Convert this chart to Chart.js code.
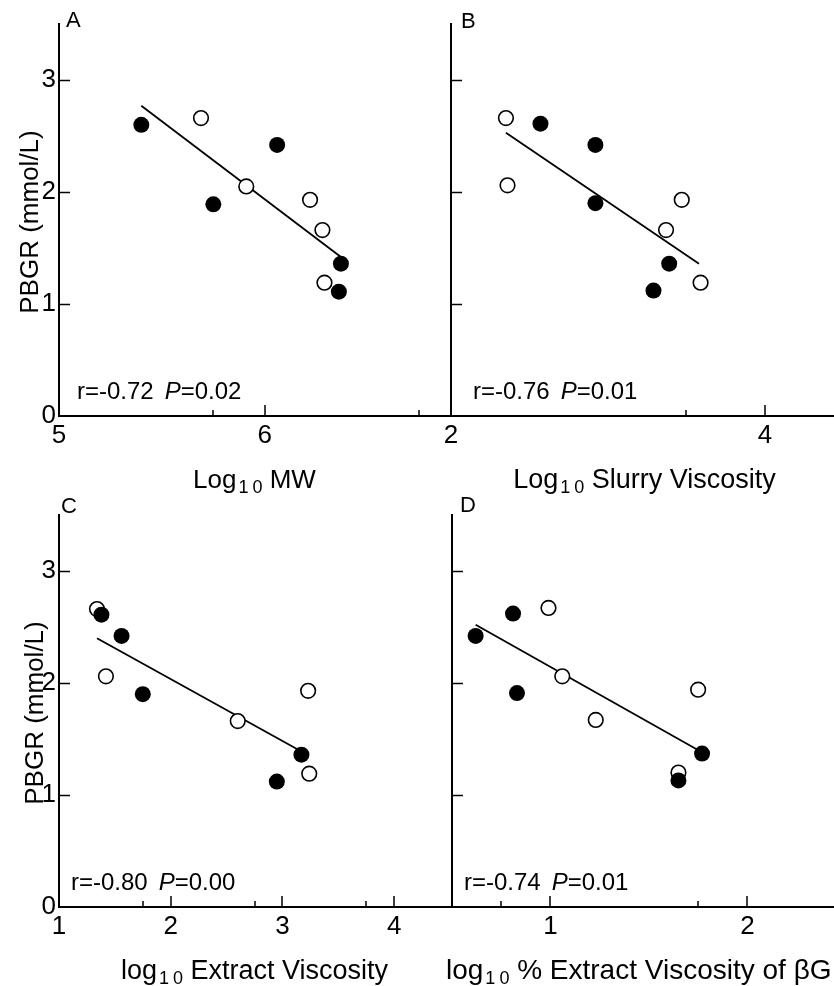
<!DOCTYPE html>
<html>
<head>
<meta charset="utf-8">
<script src="https://cdn.jsdelivr.net/npm/chart.js@4.4.1/dist/chart.umd.min.js"></script>
<style>
html,body{margin:0;padding:0;background:#fff;width:834px;height:986px;overflow:hidden;}
canvas{position:absolute;}
</style>
</head>
<body>
<canvas id="cA" width="451" height="500" style="left:0;top:0"></canvas>
<canvas id="cB" width="434" height="500" style="left:400px;top:0"></canvas>
<canvas id="cC" width="451" height="500" style="left:0;top:491px"></canvas>
<canvas id="cD" width="434" height="500" style="left:400px;top:491px"></canvas>
<script>
// ---------- data ----------
const yTicks = [0, 1, 2, 3];

// Panel A : Log10 MW
const mwFilledX = [5.40, 5.75, 6.06, 6.37, 6.36];
const mwFilledY = [2.60, 1.89, 2.42, 1.36, 1.11];
const mwOpenX   = [5.69, 5.91, 6.22, 6.28, 6.29];
const mwOpenY   = [2.66, 2.05, 1.93, 1.66, 1.19];
const mwFitX    = [5.40, 6.37];
const mwFitY    = [2.77, 1.42];
const mwMajorTicks = [5, 6];
const mwMinorTicks = [5.75, 6.75];

// Panel B : Log10 Slurry Viscosity
const slurryFilledX = [2.57, 2.92, 2.92, 3.39, 3.29];
const slurryFilledY = [2.61, 2.42, 1.90, 1.36, 1.12];
const slurryOpenX   = [2.35, 2.36, 3.47, 3.37, 3.59];
const slurryOpenY   = [2.66, 2.06, 1.93, 1.66, 1.19];
const slurryFitX    = [2.35, 3.58];
const slurryFitY    = [2.53, 1.36];
const slurryMajorTicks = [2, 4];
const slurryMinorTicks = [3.5];

// Panel C : log10 Extract Viscosity
const extractFilledX = [1.38, 1.56, 1.75, 3.17, 2.95];
const extractFilledY = [2.61, 2.42, 1.90, 1.36, 1.12];
const extractOpenX   = [1.34, 1.42, 3.23, 2.60, 3.24];
const extractOpenY   = [2.66, 2.06, 1.93, 1.66, 1.19];
const extractFitX    = [1.34, 3.13];
const extractFitY    = [2.40, 1.41];
const extractMajorTicks = [1, 2, 3, 4];
const extractMinorTicks = [1.75, 2.75, 3.75];

// Panel D : log10 % Extract Viscosity of βG
const pctFilledX = [0.62, 0.81, 0.83, 1.77, 1.65];
const pctFilledY = [2.42, 2.62, 1.91, 1.37, 1.13];
const pctOpenX   = [0.99, 1.06, 1.75, 1.23, 1.65];
const pctOpenY   = [2.67, 2.06, 1.94, 1.67, 1.20];
const pctFitX    = [0.62, 1.74];
const pctFitY    = [2.52, 1.41];
const pctMajorTicks = [1, 2];
const pctMinorTicks = [0.75, 1.75];

const panelLetters = ['A', 'B', 'C', 'D'];
const rValues = ['-0.72', '-0.76', '-0.80', '-0.74'];
const pValues = ['0.02', '0.01', '0.00', '0.01'];
const yTitle = 'PBGR (mmol/L)';

// ---------- drawing ----------
const FONT = '"Liberation Sans", Arial, Helvetica, sans-serif';

const decor = {
  id: 'decor',
  beforeDatasetsDraw(chart, args, o) {
    const ctx = chart.ctx, ca = chart.chartArea;
    const xs = chart.scales.x, ys = chart.scales.y;
    ctx.save();
    ctx.strokeStyle = '#000';
    ctx.lineWidth = 1.5;
    // inward y ticks
    yTicks.forEach(v => {
      if (v === 0) return;
      const p = Math.round(ys.getPixelForValue(v)) + 0.5;
      ctx.beginPath(); ctx.moveTo(ca.left, p); ctx.lineTo(ca.left + 11, p); ctx.stroke();
    });
    // inward x ticks
    o.major.forEach(v => {
      const p = Math.round(xs.getPixelForValue(v));
      ctx.beginPath(); ctx.moveTo(p, ca.bottom); ctx.lineTo(p, ca.bottom - 11); ctx.stroke();
    });
    o.minor.forEach(v => {
      const p = Math.round(xs.getPixelForValue(v));
      ctx.beginPath(); ctx.moveTo(p, ca.bottom); ctx.lineTo(p, ca.bottom - 6); ctx.stroke();
    });
    ctx.restore();
  },
  afterDraw(chart, args, o) {
    const ctx = chart.ctx, ca = chart.chartArea;
    ctx.save();
    ctx.fillStyle = '#000';
    ctx.textBaseline = 'alphabetic';
    // panel letter
    ctx.font = '22px ' + FONT;
    ctx.textAlign = 'left';
    ctx.fillText(o.letter, ca.left + o.letterDx, ca.top + o.letterDy);
    // r / P annotation
    ctx.font = '24px ' + FONT;
    let x = ca.left + o.annDx;
    const by = ca.bottom - 17;
    const s1 = 'r=' + o.r;
    ctx.fillText(s1, x, by);
    x += ctx.measureText(s1).width + 11;
    ctx.font = 'italic 24px ' + FONT;
    ctx.fillText('P', x, by);
    x += ctx.measureText('P').width;
    ctx.font = '24px ' + FONT;
    ctx.fillText('=' + o.p, x, by);
    // x-axis title with subscript
    const mainF = o.titleSize + 'px ' + FONT, subF = '18px ' + FONT;
    ctx.font = mainF; const w1 = ctx.measureText(o.tPre).width;
    ctx.font = subF;
    const subChars = o.tSub.split('');
    const cw = subChars.map(c => ctx.measureText(c).width);
    const gap = 4;
    const w2 = cw.reduce((a, b) => a + b, 0) + gap * (subChars.length - 1);
    ctx.font = mainF; const w3 = ctx.measureText(o.tPost).width;
    const total = w1 + 2 + w2 + w3;
    let tx = o.tAlignLeft ? ca.left + o.tDx : (ca.left + ca.right) / 2 - total / 2 + o.tDx;
    const ty = ca.bottom + 72;
    ctx.font = mainF; ctx.fillText(o.tPre, tx, ty); tx += w1 + 2;
    ctx.font = subF;
    subChars.forEach((c, i) => { ctx.fillText(c, tx, ty + 5); tx += cw[i] + gap; });
    tx -= gap;
    ctx.font = mainF; ctx.fillText(o.tPost, tx, ty);
    // y title
    if (o.yTitleX) {
      ctx.translate(o.yTitleX, (ca.top + ca.bottom) / 2 + 2);
      ctx.rotate(-Math.PI / 2);
      ctx.font = '26px ' + FONT;
      ctx.textAlign = 'center';
      ctx.textBaseline = 'middle';
      ctx.fillText(yTitle, 0, 0);
    }
    ctx.restore();
  }
};

function pts(xs, ys) { return xs.map((x, i) => ({ x: x, y: ys[i] })); }

function makeChart(id, c) {
  new Chart(document.getElementById(id), {
    type: 'scatter',
    data: {
      datasets: [
        { data: pts(c.fx, c.fy), pointRadius: 8, pointBackgroundColor: '#000', pointBorderColor: '#000', pointBorderWidth: 0, order: 1 },
        { data: pts(c.ox, c.oy), pointRadius: 7.3, pointBackgroundColor: '#fff', pointBorderColor: '#000', pointBorderWidth: 1.6, order: 2 },
        { data: pts(c.lx, c.ly), showLine: true, pointRadius: 0, borderColor: '#000', borderWidth: 1.8, order: 3 }
      ]
    },
    options: {
      responsive: false, animation: false, devicePixelRatio: 1,
      layout: { autoPadding: false, padding: { top: 24, right: c.padRight, left: 0, bottom: 0 } },
      plugins: { legend: { display: false }, tooltip: { enabled: false }, decor: c },
      scales: {
        x: {
          type: 'linear', min: c.xmin, max: c.xmax,
          grid: { display: false, drawTicks: false },
          border: { display: true, color: '#000', width: 2 },
          ticks: {
            autoSkip: false, maxRotation: 0, padding: 4, color: '#000',
            font: { family: FONT, size: 26 },
            callback: v => c.major.includes(v) ? String(v) : ''
          },
          afterBuildTicks: s => { s.ticks = c.major.concat(c.minor).sort((a, b) => a - b).map(v => ({ value: v })); },
          afterFit: s => { s.height = 84; s.paddingLeft = 0; s.paddingRight = 0; }
        },
        y: {
          type: 'linear', min: 0, max: 3.5,
          grid: { display: false, drawTicks: false },
          border: { display: true, color: '#000', width: 2 },
          ticks: {
            display: c.yLabels, padding: 3, color: '#000',
            font: { family: FONT, size: 26 }
          },
          afterBuildTicks: s => { s.ticks = yTicks.map(v => ({ value: v })); },
          afterFit: s => { s.width = c.yWidth; s.paddingTop = 0; s.paddingBottom = 0; }
        }
      }
    },
    plugins: [decor]
  });
}

makeChart('cA', {
  fx: mwFilledX, fy: mwFilledY, ox: mwOpenX, oy: mwOpenY, lx: mwFitX, ly: mwFitY,
  major: mwMajorTicks, minor: mwMinorTicks, xmin: 5, xmax: 6.9,
  yLabels: true, yWidth: 59, padRight: 1,
  letter: panelLetters[0], letterDx: 7, letterDy: 3,
  r: rValues[0], p: pValues[0], annDx: 18,
  tPre: 'Log', tSub: '10', tPost: ' MW', titleSize: 26, tDx: 0, tAlignLeft: false,
  yTitleX: 31
});
makeChart('cB', {
  fx: slurryFilledX, fy: slurryFilledY, ox: slurryOpenX, oy: slurryOpenY, lx: slurryFitX, ly: slurryFitY,
  major: slurryMajorTicks, minor: slurryMinorTicks, xmin: 2, xmax: 4.44,
  yLabels: false, yWidth: 51, padRight: 0,
  letter: panelLetters[1], letterDx: 10, letterDy: 4,
  r: rValues[1], p: pValues[1], annDx: 22,
  tPre: 'Log', tSub: '10', tPost: ' Slurry Viscosity', titleSize: 27, tDx: 2, tAlignLeft: false,
  yTitleX: 0
});
makeChart('cC', {
  fx: extractFilledX, fy: extractFilledY, ox: extractOpenX, oy: extractOpenY, lx: extractFitX, ly: extractFitY,
  major: extractMajorTicks, minor: extractMinorTicks, xmin: 1, xmax: 4.5,
  yLabels: true, yWidth: 59, padRight: 1,
  letter: panelLetters[2], letterDx: 2, letterDy: -2,
  r: rValues[2], p: pValues[2], annDx: 12,
  tPre: 'log', tSub: '10', tPost: ' Extract Viscosity', titleSize: 27, tDx: 0, tAlignLeft: false,
  yTitleX: 36
});
makeChart('cD', {
  fx: pctFilledX, fy: pctFilledY, ox: pctOpenX, oy: pctOpenY, lx: pctFitX, ly: pctFitY,
  major: pctMajorTicks, minor: pctMinorTicks, xmin: 0.5, xmax: 2.44,
  yLabels: false, yWidth: 52, padRight: 0,
  letter: panelLetters[3], letterDx: 8, letterDy: -3,
  r: rValues[3], p: pValues[3], annDx: 12,
  tPre: 'log', tSub: '10', tPost: ' % Extract Viscosity of \u03B2G', titleSize: 28, tDx: -6, tAlignLeft: true,
  yTitleX: 0
});
</script>
</body>
</html>
